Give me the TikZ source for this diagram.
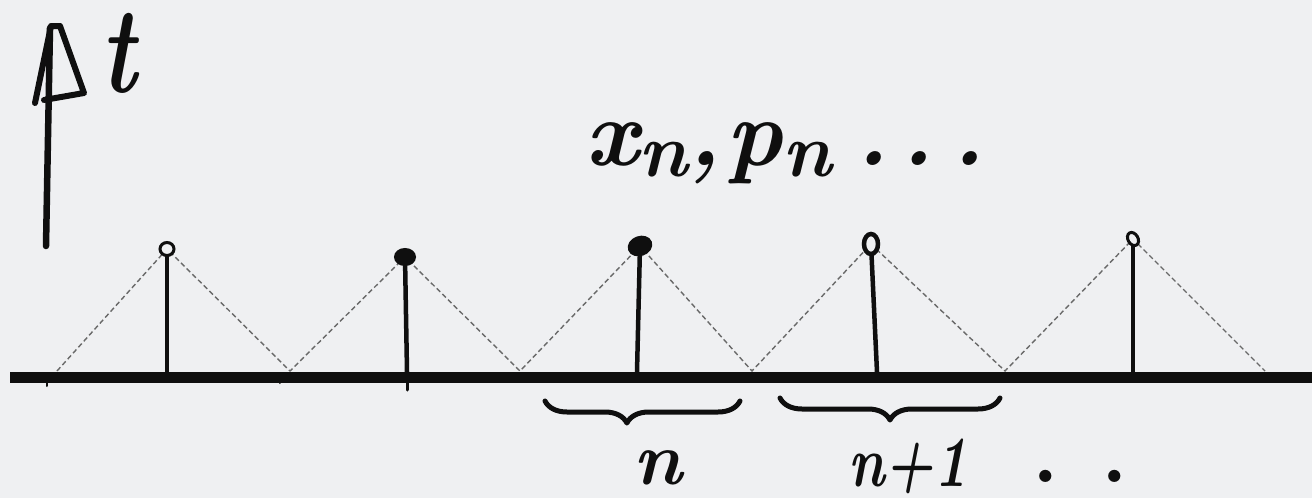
\documentclass[tikz,border=0pt]{standalone}
\usetikzlibrary{decorations.pathreplacing,shapes.geometric}
\definecolor{bg}{RGB}{239,240,242}
\definecolor{ink}{RGB}{15,15,15}
\definecolor{dash}{RGB}{105,105,105}
\newcommand{\lowsub}[1]{\raisebox{-0.12em}{\scalebox{0.8}{#1}}}
\begin{document}
\begin{tikzpicture}[x=1pt,y=-1pt,
  ink/.style={draw=ink,line cap=round,line join=round},
  stem/.style={ink,line width=4.5pt},
  tri/.style={draw=dash,line width=1.4pt,dash pattern=on 5pt off 3pt},
  dotc/.style={ellipse,draw=ink,inner sep=0pt,minimum width=#1},
  hand/.style={text=ink,inner sep=0pt},
  bracestyle/.style={ink,line width=5pt,decorate,decoration={brace,mirror,amplitude=22pt,aspect=#1}}]
\useasboundingbox (0,0) rectangle (1312,498);
\fill[bg] (0,0) rectangle (1312,498);
% time axis
\coordinate (ta) at (46,246);
\coordinate (tb) at (50,28);
\draw[ink,line width=6.5pt] (ta) -- (tb);
\draw[ink,line width=6pt] (35,103) -- (51,26) -- (60,26) -- (84,93) -- (44,100);
\node[hand,font=\fontsize{110}{110}\selectfont\bfseries\itshape,anchor=base] (t) at (118,92) {\scalebox{0.85}[1.12]{t}};
% horizontal axis
\coordinate (xa) at (10,377);
\coordinate (xb) at (1312,377);
\draw[draw=ink,line width=11pt] (xa) -- (xb);
\draw[ink,line width=2pt] (47,377) -- (47,386);
\draw[ink,line width=2pt] (280,377) -- (280,383);
\draw[ink,line width=3pt] (407,377) -- (407,390);
% vertices of the dashed triangles
\coordinate (v0) at (57,371);
\coordinate (v1) at (290,371);
\coordinate (v2) at (520,371);
\coordinate (v3) at (752,371);
\coordinate (v4) at (1005,371);
\coordinate (v5) at (1265,371);
% stems
\coordinate (b1) at (167,372);
\coordinate (b2) at (407,372);
\coordinate (b3) at (637,372);
\coordinate (b4) at (877,372);
\coordinate (b5) at (1133,372);
\coordinate (c1) at (167,249);
\coordinate (c2) at (405,257);
\coordinate (c3) at (640,246);
\coordinate (c4) at (871,244);
\coordinate (c5) at (1133,239);
\draw[tri] (v0) -- (c1) -- (v1) -- (c2) -- (v2) -- (c3) -- (v3) -- (c4) -- (v4) -- (c5) -- (v5);
\draw[stem] (c1) -- (b1);
\draw[stem] (c2) -- (b2);
\draw[stem] (c3) -- (b3);
\draw[stem] (c4) -- (b4);
\draw[stem] (c5) -- (b5);
\node[dotc=14pt,minimum height=13pt,line width=3pt,fill=bg] (p1) at (c1) {};
\node[dotc=18pt,minimum height=14pt,line width=4pt,fill=ink] (p2) at (c2) {};
\node[dotc=21pt,minimum height=16pt,line width=4pt,fill=ink,rotate=20] (p3) at (c3) {};
\node[dotc=14pt,minimum height=20pt,line width=4.5pt,fill=bg] (p4) at (c4) {};
\node[dotc=10pt,minimum height=14pt,line width=3pt,fill=bg,rotate=30] (p5) at (c5) {};
% labels
\node[hand,font=\fontsize{95}{95}\selectfont\bfseries\itshape,anchor=base west] (lab) at (585,165) {x\lowsub{n},\hspace{0.05em}p\lowsub{n}\hspace{0.25em}.\hspace{0.12em}.\hspace{0.18em}.};
\draw[bracestyle=0.42] (545,401) -- (740,401);
\draw[bracestyle=0.5] (780,398) -- (1000,398);
\node[hand,font=\fontsize{75}{75}\selectfont\bfseries\itshape,anchor=base] (n) at (658,484) {n};
\node[hand,font=\fontsize{72}{72}\selectfont\bfseries\itshape,anchor=base] (n1) at (908,486) {\scalebox{0.78}[1]{n+1}};
\node[hand,font=\fontsize{85}{85}\selectfont\bfseries,anchor=base] (dd) at (1080,482) {. .};
\end{tikzpicture}
\end{document}
